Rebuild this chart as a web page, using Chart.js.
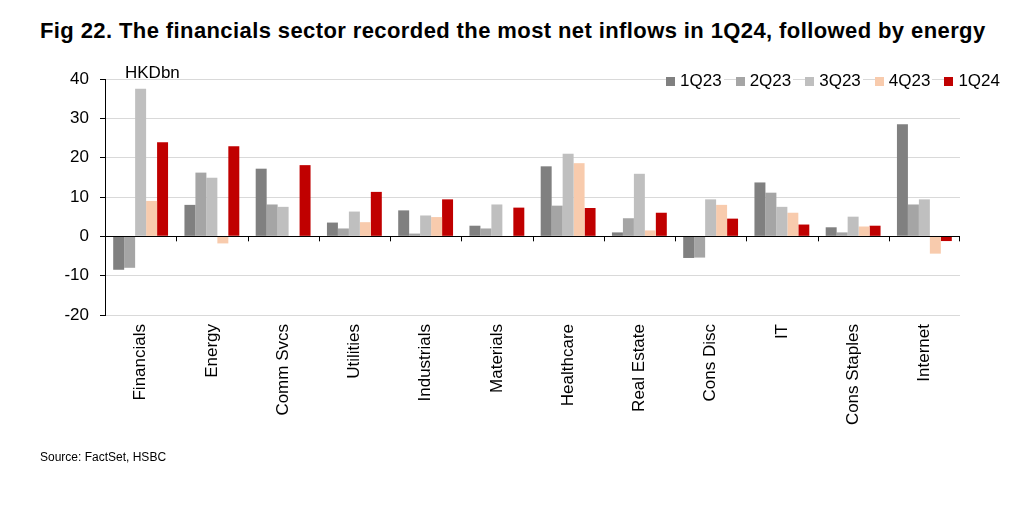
<!DOCTYPE html>
<html>
<head>
<meta charset="utf-8">
<script src="https://cdn.jsdelivr.net/npm/chart.js@4.4.1/dist/chart.umd.min.js"></script>
<style>
  html, body { margin: 0; padding: 0; background: #fff; }
  body { width: 1024px; height: 506px; position: relative; overflow: hidden;
         font-family: "Liberation Sans", Arial, sans-serif; color: #000; }
  #title { position: absolute; left: 40px; top: 18px; font-size: 22px; letter-spacing: 0.4px; font-weight: bold; white-space: nowrap; }
  #unit { position: absolute; left: 125px; top: 63px; font-size: 17px; }
  #legend { position: absolute; right: 22px; top: 71px; font-size: 17px; display: flex; z-index: 2; }
  #legend span.item { background: #fff; display: flex; align-items: center; margin-left: 12px; padding-right: 2px; }
  #legend i { display: inline-block; width: 9px; height: 9px; margin-right: 5px; }
  #source { position: absolute; left: 40px; top: 450px; font-size: 12px; }
  #wrap { position: absolute; left: 0; top: 0; width: 1024px; height: 506px; }
</style>
</head>
<body>
<div id="title">Fig 22. The financials sector recorded the most net inflows in 1Q24, followed by energy</div>
<div id="wrap"><canvas id="chart"></canvas></div>
<div id="unit">HKDbn</div>
<div id="legend"></div>
<div id="source">Source: FactSet, HSBC</div>
<script>
const categories = ['Financials', 'Energy', 'Comm Svcs', 'Utilities', 'Industrials', 'Materials',
                    'Healthcare', 'Real Estate', 'Cons Disc', 'IT', 'Cons Staples', 'Internet'];
const q1_23 = [-8.5, 8, 17.2, 3.5, 6.6, 2.7, 17.8, 1.0, -5.5, 13.7, 2.3, 28.5];
const q2_23 = [-8.0, 16.2, 8.1, 2.0, 0.7, 2.0, 7.8, 4.6, -5.4, 11.1, 1.0, 8.1];
const q3_23 = [37.5, 14.9, 7.5, 6.3, 5.3, 8.1, 21.0, 15.9, 9.4, 7.5, 5.0, 9.4];
const q4_23 = [9.0, -1.8, 0, 3.6, 4.9, 0, 18.6, 1.5, 8.0, 6.0, 2.5, -4.4];
const q1_24 = [23.9, 22.9, 18.1, 11.3, 9.4, 7.3, 7.2, 6.0, 4.5, 3.0, 2.7, -1.2];
const seriesNames = ['1Q23', '2Q23', '3Q23', '4Q23', '1Q24'];
const seriesColors = ['#808080', '#a5a5a5', '#bfbfbf', '#f8cbad', '#c00000'];
const yTicks = [40, 30, 20, 10, 0, -10, -20];

const allSeries = [q1_23, q2_23, q3_23, q4_23, q1_24];

// html legend, sits on top of the plot like the original
const legendEl = document.getElementById('legend');
seriesNames.forEach((name, i) => {
    const s = document.createElement('span');
    s.className = 'item';
    s.innerHTML = '<i style="background:' + seriesColors[i] + '"></i>' + name;
    legendEl.appendChild(s);
});

// small tick marks on the zero line between categories
const zeroTicks = {
    id: 'zeroTicks',
    afterDatasetsDraw(chart) {
        const x = chart.scales.x, y = chart.scales.y;
        const y0 = y.getPixelForValue(0);
        const ctx = chart.ctx;
        ctx.save();
        ctx.strokeStyle = '#000';
        ctx.lineWidth = 1;
        ctx.beginPath();
        ctx.moveTo(chart.chartArea.left, Math.round(y0) + 0.5);
        ctx.lineTo(chart.chartArea.right, Math.round(y0) + 0.5);
        for (let i = 1; i <= categories.length; i++) {
            const px = Math.round((x.getPixelForValue(i - 1) + x.getPixelForValue(i)) / 2) + 0.5;
            const xx = i === categories.length ? Math.round(chart.chartArea.right) - 0.5 : px;
            ctx.moveTo(xx, y0);
            ctx.lineTo(xx, y0 + 5);
        }
        ctx.stroke();
        ctx.restore();
    }
};

const ctx = document.getElementById('chart').getContext('2d');
new Chart(ctx, {
    type: 'bar',
    data: {
        labels: categories,
        datasets: allSeries.map((d, i) => ({
            label: seriesNames[i],
            data: d,
            backgroundColor: seriesColors[i],
            borderWidth: 0,
            barPercentage: 1,
            categoryPercentage: 0.77
        }))
    },
    options: {
        responsive: true,
        maintainAspectRatio: false,
        animation: false,
        layout: { padding: { top: 79, right: 64, left: 0, bottom: 0 } },
        plugins: {
            legend: { display: false },
            tooltip: { enabled: false }
        },
        scales: {
            x: {
                grid: { display: false, drawTicks: false },
                border: { display: false },
                afterFit: s => { s.height = 506 - 315; },
                ticks: {
                    color: '#000',
                    maxRotation: 90,
                    minRotation: 90,
                    padding: 9,
                    autoSkip: false,
                    font: { size: 17, family: "'Liberation Sans', Arial, sans-serif" }
                }
            },
            y: {
                min: -20,
                max: 40,
                afterFit: s => { s.width = 105; },
                afterBuildTicks: s => { s.ticks = yTicks.map(v => ({ value: v })); },
                grid: {
                    color: c => c.tick && c.tick.value === 0 ? '#000' : '#d9d9d9',
                    tickColor: '#000',
                    tickLength: 5,
                    lineWidth: 1
                },
                border: { color: '#000', width: 1 },
                ticks: {
                    color: '#000',
                    padding: 11,
                    font: { size: 17, family: "'Liberation Sans', Arial, sans-serif" }
                }
            }
        }
    },
    plugins: [zeroTicks]
});
</script>
</body>
</html>
